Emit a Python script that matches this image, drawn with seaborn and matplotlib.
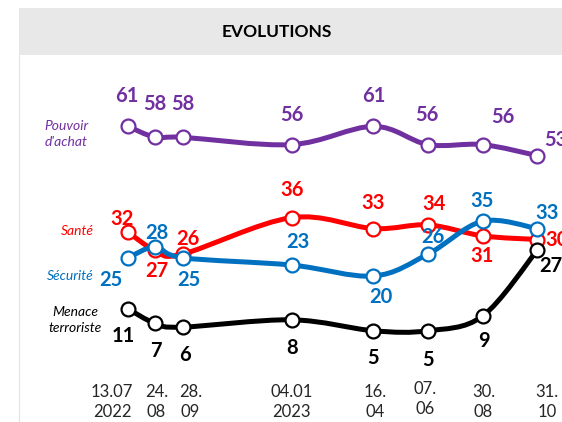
import numpy as np
import pandas as pd
import matplotlib
matplotlib.use("Agg")
import matplotlib.pyplot as plt
import matplotlib.transforms as mtransforms
from matplotlib.patches import Rectangle, PathPatch
from matplotlib.path import Path
from matplotlib.lines import Line2D
import seaborn as sns

# survey waves (months since July 2022) and their tick labels
months = [0, 1, 2, 6, 9, 11, 13, 15]
date_labels = ["13.07\n2022", "24.\n08", "28.\n09", "04.01\n2023",
               "16.\n04", "07.\n06", "30.\n08", "31.\n10"]

pouvoir_achat = [61, 58, 58, 56, 61, 56, 56, 53]
sante = [32, 27, 26, 36, 33, 34, 31, 30]
securite = [25, 28, 25, 23, 20, 26, 35, 33]
menace = [11, 7, 6, 8, 5, 5, 9, 27]

series_names = ["Santé", "Sécurité", "Menace\nterroriste", "Pouvoir\nd'achat"]
series_values = [sante, securite, menace, pouvoir_achat]
colors = ["#FF0000", "#0070C0", "#000000", "#7030A0"]

# label offsets in pixels (dx, dy), per series
offsets = [
    [(-6, 13), (2, -21), (5, 15), (0, 28), (0, 26), (6, 21), (0, -20), (20, 0)],
    [(-17, -22), (2, 14), (6, -22), (6, 23), (7, -21), (5, 17), (0, 20), (10, 16)],
    [(-5, -27), (1, -28), (2, -28), (0, -28), (0, -27), (0, -29), (1, -25), (14, -16)],
    [(-1, 30), (0, 33), (0, 33), (0, 30), (0, 30), (-1, 30), (20, 28), (19, 16)],
]
# tick label nudges in pixels (dx, dy)
tick_nudge = [(-16, 0), (1, 0), (8, 0), (0, 0), (2, 0), (-3, 3), (1, 0), (10, 0)]
# where the series names sit (pixels, centre of text)
name_pos = [(77, 231), (70, 276), (75, 320), (66, 134)]

rows = []
for name, vals in zip(series_names, series_values):
    for m, v in zip(months, vals):
        rows.append({"serie": name, "mois": m, "valeur": v})
df = pd.DataFrame(rows)


def smooth_path(xs, ys):
    # cubic bezier through the points (Catmull-Rom style control points)
    p = np.column_stack([xs, ys]).astype(float)
    verts = [p[0]]
    codes = [Path.MOVETO]
    n = len(p)
    for i in range(n - 1):
        p0 = p[i - 1] if i > 0 else p[i]
        p3 = p[i + 2] if i + 2 < n else p[i + 1]
        c1 = p[i] + (p[i + 1] - p0) / 6
        c2 = p[i + 1] - (p3 - p[i]) / 6
        verts += [c1, c2, p[i + 1]]
        codes += [Path.CURVE4] * 3
    return Path(verts, codes)


sns.set_style("white")
plt.rcParams["font.family"] = ["Lato", "DejaVu Sans"]

W, H = 562, 422
fig = plt.figure(figsize=(W / 100, H / 100), dpi=100)
ax = fig.add_axes([0, (H - 360) / H, 1, 300 / H])

for k, (name, color) in enumerate(zip(series_names, colors)):
    sub = df[df["serie"] == name]
    ax.add_patch(PathPatch(smooth_path(sub["mois"], sub["valeur"]), facecolor="none",
                           edgecolor=color, linewidth=3.6, capstyle="round",
                           zorder=2 + 2 * k))
    sns.scatterplot(data=sub, x="mois", y="valeur", ax=ax, s=100, marker="o",
                    facecolor="white", edgecolor=color, linewidth=1.6,
                    zorder=3 + 2 * k, legend=False)

for vals, color, offs in zip(series_values, colors, offsets):
    for m, v, (dx, dy) in zip(months, vals, offs):
        ax.annotate(str(v), (m, v), xytext=(dx, dy), textcoords="offset pixels",
                    ha="center", va="center", fontsize=14.5, fontweight="bold",
                    color=color, annotation_clip=False, zorder=20)

px_per_month = 27.27
ax.set_xlim(-128 / px_per_month, (W - 128) / px_per_month)
ax.set_ylim((349 - 360) / 3.65, (349 - 60) / 3.65)
ax.set_xticks(months)
ax.set_xticklabels(date_labels, fontsize=12, linespacing=1.35)
ax.tick_params(axis="x", length=0, pad=17)
for lab, (dx, dy) in zip(ax.get_xticklabels(), tick_nudge):
    shift = mtransforms.ScaledTranslation(dx / 100, dy / 100, fig.dpi_scale_trans)
    lab.set_transform(lab.get_transform() + shift)
ax.set_yticks([])
ax.set_xlabel("")
ax.set_ylabel("")
for s in ax.spines.values():
    s.set_visible(False)
ax.patch.set_alpha(0)

for name, color, (px, py) in zip(series_names, colors, name_pos):
    fig.text(px / W, 1 - py / H, name, ha="center", va="center",
             fontsize=10, fontstyle="italic", color=color, linespacing=1.3)

# title band
fig.patches.append(Rectangle((19 / W, 1 - 55 / H), 1 - 19 / W, 47 / H,
                             transform=fig.transFigure, facecolor="#E8E8E8",
                             edgecolor="none", zorder=0))
fig.lines.append(Line2D([19 / W, 19 / W], [0, 1 - 55 / H], transform=fig.transFigure,
                        color="#E3E3E3", linewidth=0.8))
fig.text(277 / W, 1 - 32 / H, "EVOLUTIONS", ha="center", va="center",
         fontsize=12.5, fontweight="bold", color="#000000")

fig.savefig("out.png", dpi=100)
